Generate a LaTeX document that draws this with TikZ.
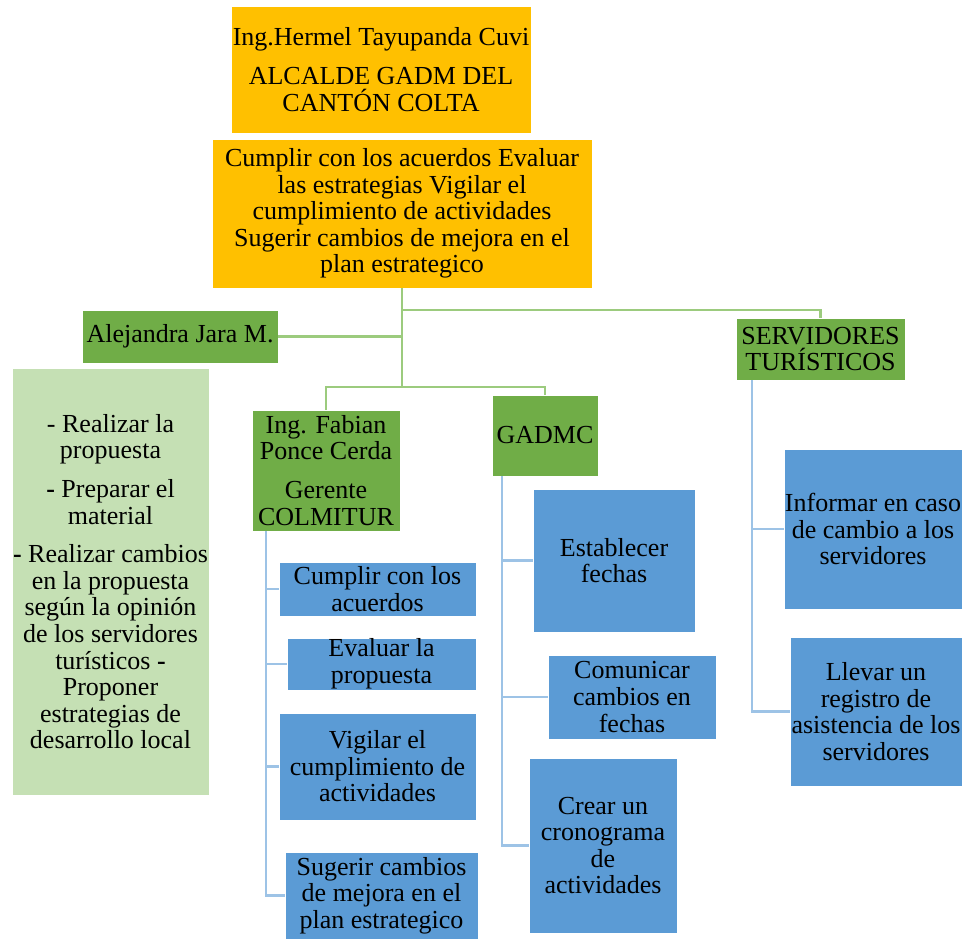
\documentclass[tikz,border=0pt]{standalone}
\usepackage{fontspec}
\setmainfont{LiberationSerif}[
    Extension=.ttf,
    UprightFont=*-Regular,
    BoldFont=*-Bold,
    ItalicFont=*-Italic,
    BoldItalicFont=*-BoldItalic]
\usepackage{xcolor}
\usepackage{tikz}

\definecolor{naranja}{HTML}{FFC000}
\definecolor{verde}{HTML}{70AD47}
\definecolor{verdeclaro}{HTML}{C5E0B4}
\definecolor{azul}{HTML}{5B9BD5}
\definecolor{lineaverde}{HTML}{9CCB7E}
\definecolor{lineaazul}{HTML}{9DC3E6}

\begin{document}
\begin{tikzpicture}[x=0.02cm, y=-0.02cm,
    caja/.style={draw=white, line width=0.4pt, inner sep=0pt, align=center,
        font=\rmfamily\fontsize{14.8}{15.1}\selectfont},
    jefe/.style={caja, fill=naranja},
    cargo/.style={caja, fill=verde},
    tarea/.style={caja, fill=azul},
    conector verde/.style={draw=lineaverde, line width=1.3pt},
    conector azul/.style={draw=lineaazul, line width=1.3pt}]
    \useasboundingbox (0,0) rectangle (967,939);

    % Alcalde y funciones (top)
    \node[jefe, minimum width=6cm, minimum height=2.54cm] (alcalde) at (381,69.5) {
        Ing.Hermel Tayupanda Cuvi\\[7pt]
        ALCALDE GADM DEL\\
        CANTÓN COLTA
    };
    \node[jefe, minimum width=7.6cm, minimum height=2.98cm] (funciones) at (402,213.5) {
        Cumplir con los acuerdos Evaluar\\
        las estrategias Vigilar el\\
        cumplimiento de actividades\\
        Sugerir cambios de mejora en el\\
        plan estrategico
    };

    % Responsables (middle)
    \node[cargo, minimum width=3.92cm, minimum height=1.06cm] (alejandra) at (180,336.5) {Alejandra Jara M.};
    \node[caja, fill=verdeclaro, minimum width=3.94cm, minimum height=8.54cm] (tareasale) at (110.5,581.5) {
        - Realizar la\\
        propuesta\\[7pt]
        \textbf{-} Preparar el\\
        material\\[7pt]
        \textbf{-} Realizar cambios\\
        en la propuesta\\
        según la opinión\\
        de los servidores\\
        turísticos \textbf{-}\\
        Proponer\\
        estrategias de\\
        desarrollo local
    };
    \node[cargo, minimum width=2.96cm, minimum height=2.42cm] (fabian) at (326,470.5) {
        Ing. Fabian\\
        Ponce Cerda\\[7pt]
        Gerente\\
        COLMITUR
    };
    \node[cargo, minimum width=2.12cm, minimum height=1.62cm] (gadmc) at (545,435.5) {GADMC};
    \node[cargo, minimum width=3.38cm, minimum height=1.24cm] (servidores) at (820.5,349) {
        SERVIDORES\\
        TURÍSTICOS
    };

    % Tareas de COLMITUR
    \node[tarea, minimum width=3.94cm, minimum height=1.08cm] (cumplir) at (377.5,589) {Cumplir con los\\ acuerdos};
    \node[tarea, minimum width=3.78cm, minimum height=1.04cm] (evaluar) at (381.5,664) {Evaluar la\\ propuesta};
    \node[tarea, minimum width=3.94cm, minimum height=2.14cm] (vigilar) at (377.5,766.5) {Vigilar el\\ cumplimiento de\\ actividades};
    \node[tarea, minimum width=3.86cm, minimum height=1.74cm] (sugerir) at (381.5,895.5) {Sugerir cambios\\ de mejora en el\\ plan estrategico};

    % Tareas del GADMC
    \node[tarea, minimum width=3.24cm, minimum height=2.86cm] (establecer) at (614,560.5) {Establecer\\ fechas};
    \node[tarea, minimum width=3.36cm, minimum height=1.68cm] (comunicar) at (632,697) {Comunicar\\ cambios en\\ fechas};
    \node[tarea, minimum width=2.96cm, minimum height=3.5cm] (crear) at (603,845.5) {Crear un\\ cronograma\\ de\\ actividades};

    % Tareas de los servidores
    \node[tarea, minimum width=3.56cm, minimum height=3.2cm] (informar) at (873,529) {Informar en caso\\ de cambio a los\\ servidores};
    \node[tarea, minimum width=3.44cm, minimum height=2.98cm] (llevar) at (876,711.5) {Llevar un\\ registro de\\ asistencia de los\\ servidores};

    % Conectores verdes
    \coordinate (ramal) at (402,387);
    \draw[conector verde] (funciones.south) -- (ramal);
    \draw[conector verde] (funciones.south) -- ++(0,22) -| (servidores.north);
    \draw[conector verde] (alejandra.east) -- (alejandra.east -| funciones.south);
    \draw[conector verde] (ramal) -| (fabian.north);
    \draw[conector verde] (ramal) -| (gadmc.north);

    % Conectores azules
    \coordinate (f0) at (266,531);
    \coordinate (g0) at (502,476);
    \coordinate (s0) at (752,380);
    \foreach \t in {cumplir, evaluar, vigilar, sugerir}
        \draw[conector azul] (f0) |- (\t.west);
    \foreach \t in {establecer, comunicar, crear}
        \draw[conector azul] (g0) |- (\t.west);
    \foreach \t in {informar, llevar}
        \draw[conector azul] (s0) |- (\t.west);
\end{tikzpicture}
\end{document}
